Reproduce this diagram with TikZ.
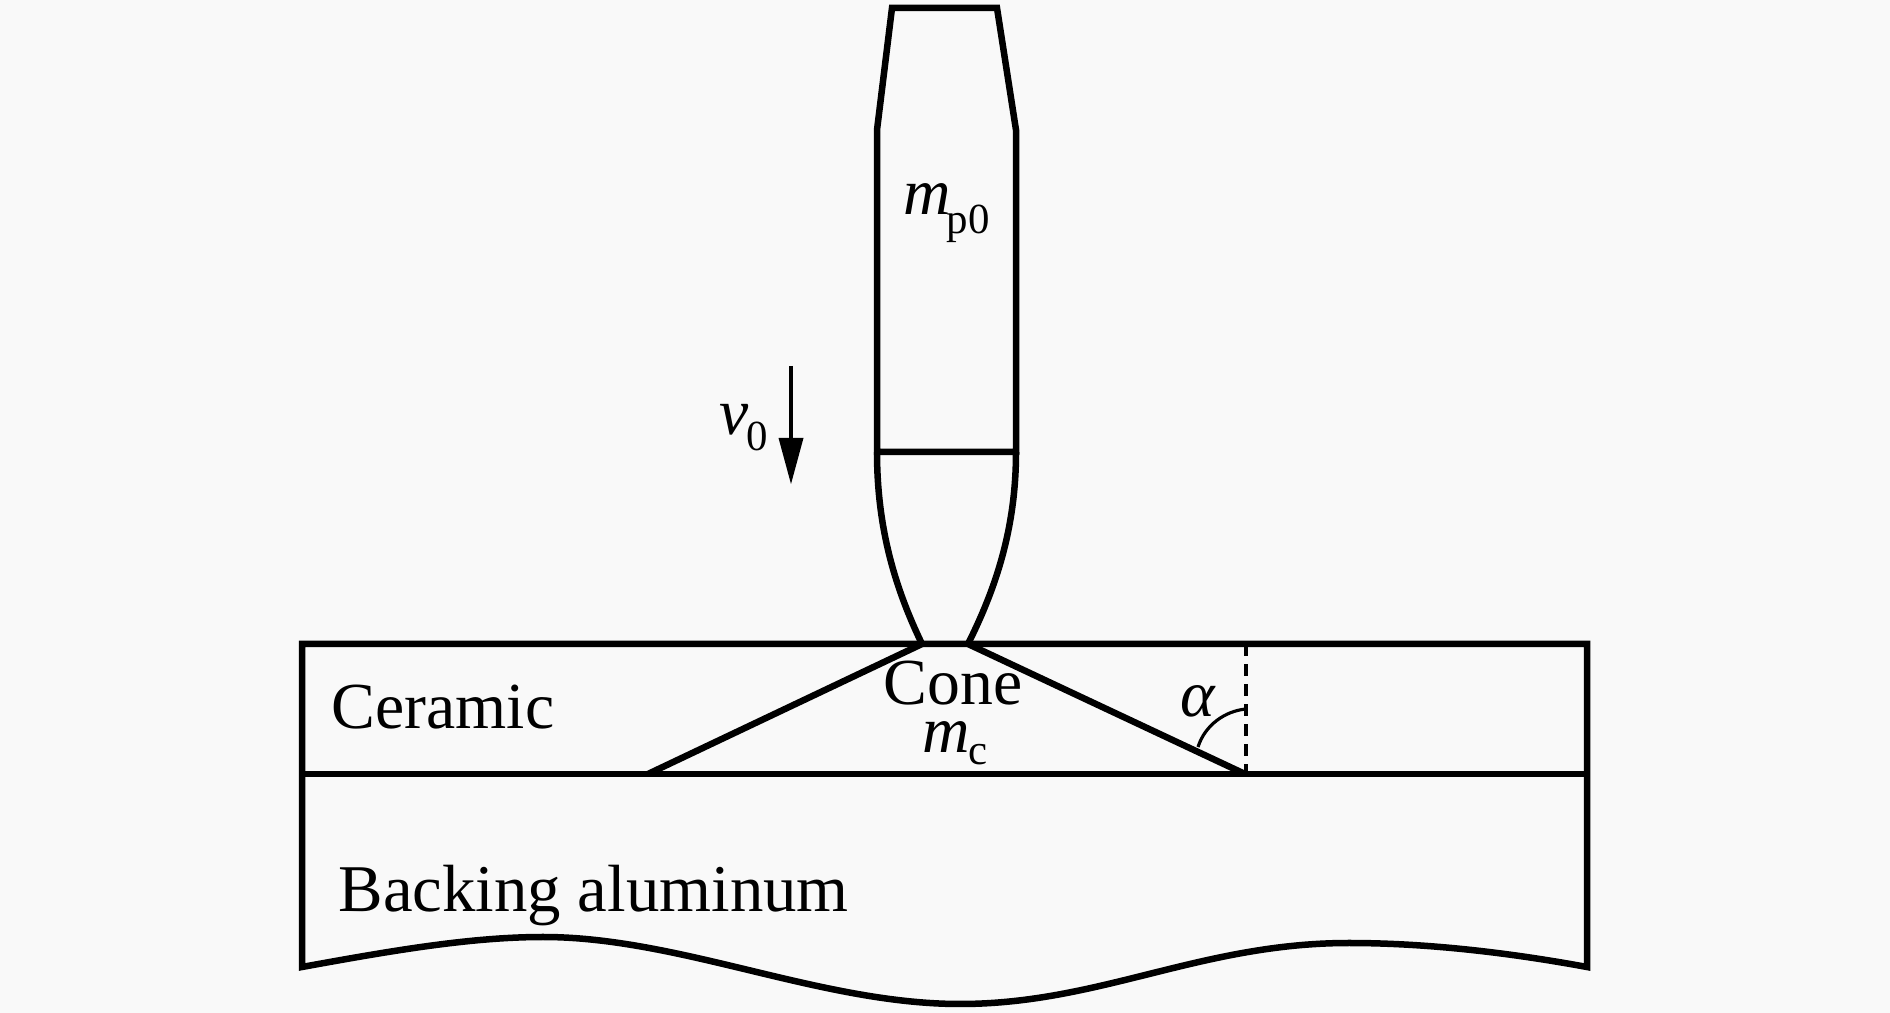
\documentclass[tikz,border=0pt]{standalone}
\usepackage{fontspec}
\setmainfont{Liberation Serif}
\usepackage{tikz}

\definecolor{paper}{HTML}{F9F9F9}
\tikzset{
    outline/.style={line width=1.85pt, line join=miter},
    label text/.style={inner sep=0pt, font=\fontsize{18.7}{20}\selectfont},
    sub text/.style={inner sep=0pt, font=\fontsize{12.2}{14}\selectfont}
}

\begin{document}
\begin{tikzpicture}
    \useasboundingbox (0,0) rectangle (18.90,10.13);
    \fill[paper] (0,0) rectangle (18.90,10.13);

    % Projectile
    \coordinate (nose_left) at (9.22,3.69);
    \coordinate (nose_right) at (9.68,3.69);
    \draw[outline] (8.77,5.61) -- (8.77,8.83) -- (8.92,10.05) -- (9.97,10.05)
        -- (10.16,8.83) -- (10.16,5.61) -- cycle;
    \draw[outline] (8.77,5.61) .. controls (8.77,4.85) and (8.95,4.25) .. (nose_left);
    \draw[outline] (10.16,5.61) .. controls (10.16,4.85) and (9.96,4.25) .. (nose_right);

    % Velocity arrow
    \coordinate (arrow_start) at (7.91,6.47);
    \coordinate (arrow_end) at (7.91,5.29);
    \draw[line width=1.1pt] (arrow_start) -- (7.91,5.7);
    \fill (7.785,5.75) -- (8.035,5.75) -- (arrow_end) -- cycle;

    % Ceramic and backing plates
    \coordinate (foot_left) at (6.48,2.39);
    \coordinate (foot_right) at (12.45,2.39);
    \draw[outline] (3.02,2.39) -- (15.87,2.39);
    \draw[outline] (3.02,3.69) -- (15.87,3.69) -- (15.87,0.46)
        .. controls (15.0,0.62) and (14.2,0.70) .. (13.49,0.70)
        .. controls (12.0,0.70) and (11.0,0.09) .. (9.6,0.09)
        .. controls (8.2,0.09) and (6.8,0.76) .. (5.43,0.76)
        .. controls (4.7,0.76) and (3.9,0.62) .. (3.02,0.46) -- cycle;

    % Cone
    \draw[outline] (foot_left) -- (nose_left);
    \draw[outline] (nose_right) -- (foot_right);

    % Angle alpha
    \draw[line width=1.4pt, dash pattern=on 3.4pt off 2.3pt] (12.46,3.69) -- (12.46,2.35);
    \draw[line width=0.9pt] (11.98,2.66) .. controls (12.05,2.88) and (12.25,3.02) .. (12.46,3.04);

    % Labels
    \node[label text, anchor=base west] (mass_p) at (9.03,7.98) {\textit{m}};
    \node[sub text, anchor=base west] (mass_p_sub) at (9.46,7.79) {p0};
    \node[label text, anchor=base west] (vel) at (7.19,5.78) {\textit{v}};
    \node[sub text, anchor=base west] (vel_sub) at (7.46,5.62) {0};
    \node[label text, anchor=base west] (ceramic) at (3.31,2.84) {Ceramic};
    \node[label text, anchor=base] (cone) at (9.53,3.08) {Cone};
    \node[label text, anchor=base west] (mass_c) at (9.22,2.60) {\textit{m}};
    \node[sub text, anchor=base west] (mass_c_sub) at (9.68,2.48) {c};
    \node[label text, anchor=base west] (alpha) at (11.80,2.96) {\textit{α}};
    \node[label text, anchor=base west, font=\fontsize{19}{20}\selectfont] (backing) at (3.38,1.01) {Backing aluminum};
\end{tikzpicture}
\end{document}
